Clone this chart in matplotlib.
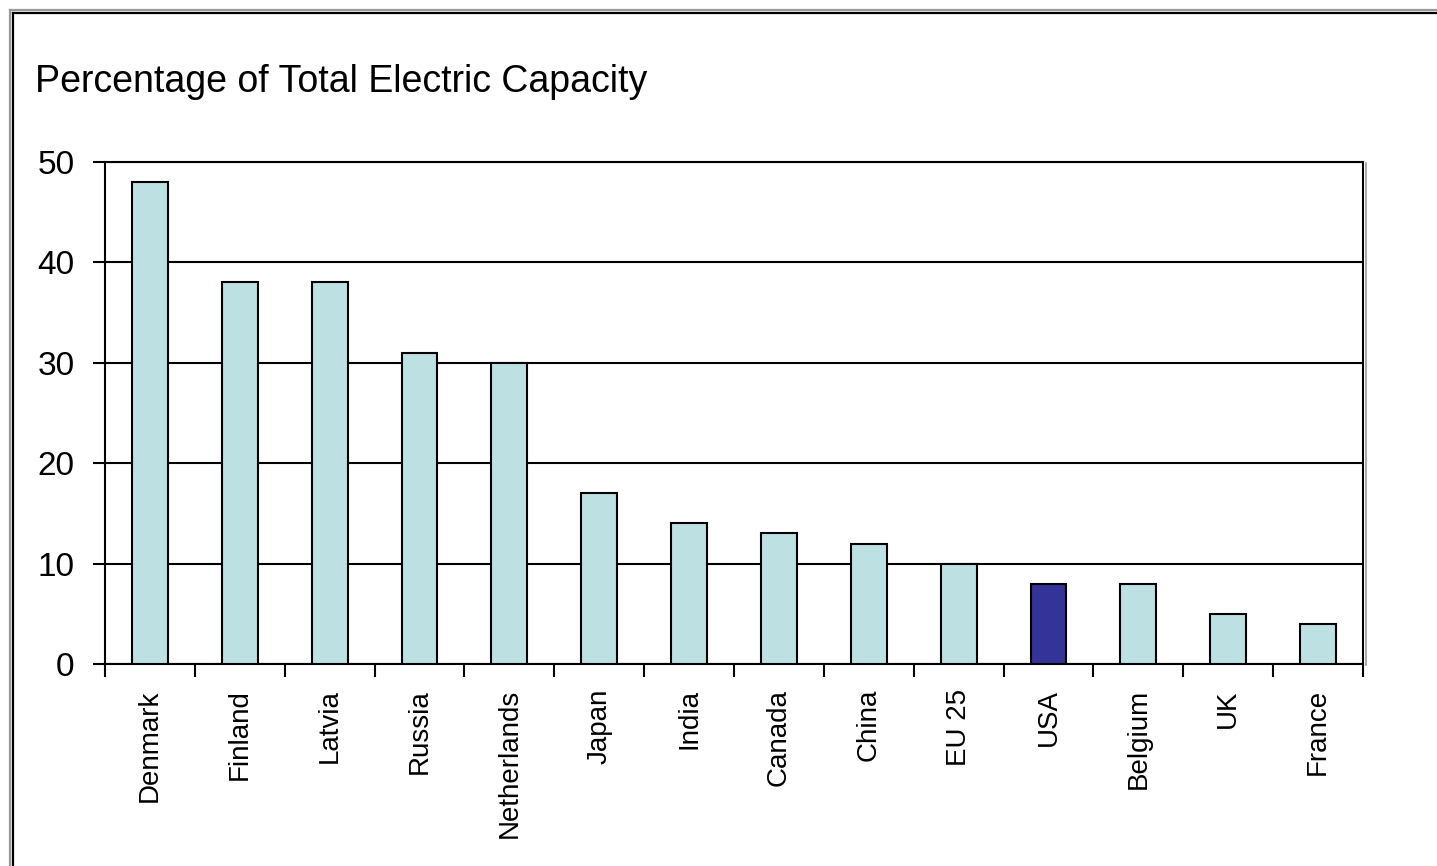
import numpy as np
import matplotlib.pyplot as plt
from matplotlib.lines import Line2D

countries = ['Denmark', 'Finland', 'Latvia', 'Russia', 'Netherlands', 'Japan', 'India',
             'Canada', 'China', 'EU 25', 'USA', 'Belgium', 'UK', 'France']
values = [48, 38, 38, 31, 30, 17, 14, 13, 12, 10, 8, 8, 5, 4]
highlight = 'USA'

plt.rcParams['font.family'] = ['Liberation Sans', 'DejaVu Sans']

fig = plt.figure(figsize=(14.37, 8.66), dpi=100)
W, H = 1437, 866
ax = fig.add_axes([105 / W, 1 - 664 / H, (1363 - 105) / W, (664 - 162) / H])

x = np.arange(len(countries))
colors = ['#333399' if c == highlight else '#bde0e3' for c in countries]
ax.bar(x, values, width=0.4, color=colors, edgecolor='black', linewidth=1.5, zorder=3)

ax.set_xlim(-0.5, len(countries) - 0.5)
ax.set_ylim(0, 50)
ax.set_yticks(range(0, 51, 10))
ax.yaxis.grid(True, color='black', linewidth=1.5, zorder=1)
ax.tick_params(axis='y', length=9, width=1.5, direction='out', labelsize=24, pad=13)

# x ticks at category boundaries, labels centred on bars
ax.set_xticks(np.arange(-0.5, len(countries), 1.0))
ax.set_xticklabels([])
ax.set_xticks(x, minor=True)
ax.set_xticklabels(countries, minor=True, rotation=90, fontsize=20)
ax.tick_params(axis='x', which='major', length=9, width=1.5, direction='out')
ax.tick_params(axis='x', which='minor', length=0, pad=18)

for s in ['left', 'top', 'right', 'bottom']:
    ax.spines[s].set_linewidth(1.5)
    ax.spines[s].set_color('black')

fig.text(35 / W, 1 - 82 / H, 'Percentage of Total Electric Capacity',
         fontsize=27, va='center', ha='left')

# double border around the picture (gray outer, black inner)
fig.add_artist(Line2D([10 / W, 10 / W], [0, 1 - 10 / H], color='#999999', linewidth=1.6, transform=fig.transFigure))
fig.add_artist(Line2D([10 / W, 1], [1 - 10 / H, 1 - 10 / H], color='#999999', linewidth=1.6, transform=fig.transFigure))
fig.add_artist(Line2D([13 / W, 13 / W], [0, 1 - 13 / H], color='black', linewidth=1.6, transform=fig.transFigure))
fig.add_artist(Line2D([13 / W, 1], [1 - 13 / H, 1 - 13 / H], color='black', linewidth=1.6, transform=fig.transFigure))
# gray shadow on the right of the plot box
fig.add_artist(Line2D([1365.5 / W, 1365.5 / W], [1 - 665 / H, 1 - 163 / H], color='#999999', linewidth=1.2, transform=fig.transFigure))

fig.savefig('out.png', dpi=100)
